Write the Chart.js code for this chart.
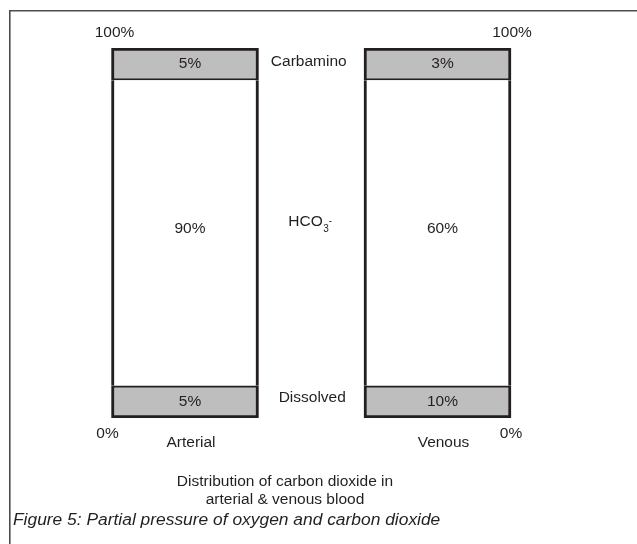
<!DOCTYPE html>
<html>
<head>
<meta charset="utf-8">
<script src="https://cdn.jsdelivr.net/npm/chart.js@4.4.1/dist/chart.umd.min.js"></script>
<style>
  html, body { margin: 0; padding: 0; background: #ffffff; }
  #wrap { position: relative; width: 637px; height: 544px; }
  canvas { display: block; }
</style>
</head>
<body>
<div id="wrap"><canvas id="c" width="637" height="544"></canvas></div>
<script>
// ---- Data ----
const categories = ['Arterial', 'Venous'];
const componentNames = ['Dissolved', 'HCO3-', 'Carbamino'];
// Percentages printed in each box
const dissolvedPct = [5, 10];
const hco3Pct = [90, 60];
const carbaminoPct = [5, 3];
// Drawn box heights (schematic, same for both columns), in % of column height
const dissolvedBox = [8.7, 8.7];
const hco3Box = [82.6, 82.6];
const carbaminoBox = [8.7, 8.7];
// Axis end labels
const topLabel = '100%';
const bottomLabel = '0%';
const subtitleLines = ['Distribution of carbon dioxide in', 'arterial & venous blood'];
const captionText = 'Figure 5: Partial pressure of oxygen and carbon dioxide';

const FONT = '"Liberation Sans", Arial, Helvetica, sans-serif';
const INK = '#231f20';
const GRAY = '#bebebe';
const BW = 3;

const annot = {
  id: 'annot',
  afterDatasetsDraw(chart) {
    const ctx = chart.ctx;
    const x = chart.scales.x;
    const ca = chart.chartArea;
    ctx.save();
    ctx.fillStyle = INK;
    ctx.textAlign = 'center';
    ctx.textBaseline = 'middle';
    ctx.font = '15.5px ' + FONT;
    const pctSets = [dissolvedPct, hco3Pct, carbaminoPct];
    const yOff = [0, -4, 0];
    // values in boxes
    chart.data.datasets.forEach((ds, di) => {
      const meta = chart.getDatasetMeta(di);
      meta.data.forEach((bar, i) => {
        const cy = (bar.y + bar.base) / 2 + yOff[di];
        ctx.fillText(pctSets[di][i] + '%', bar.x + 5, cy);
      });
    });
    // side component names between columns
    const mid = (chart.getDatasetMeta(0).data[0].x + chart.getDatasetMeta(0).data[1].x) / 2;
    const m0 = chart.getDatasetMeta(0).data[0];
    const m1 = chart.getDatasetMeta(1).data[0];
    const m2 = chart.getDatasetMeta(2).data[0];
    ctx.fillText('Carbamino', mid - 2.5, (m2.y + m2.base) / 2 - 2);
    ctx.fillText('Dissolved', mid + 1, (m0.y + m0.base) / 2 - 4);
    // HCO3- with sub/superscript
    const hy = (m1.y + m1.base) / 2 - 11;
    ctx.textAlign = 'left';
    const hx = mid - 23;
    ctx.fillText('HCO', hx, hy);
    const w = ctx.measureText('HCO').width;
    ctx.font = '10px ' + FONT;
    ctx.fillText('3', hx + w + 0.5, hy + 7);
    ctx.fillText('-', hx + w + 6, hy - 1);
    // end labels
    ctx.font = '15.5px ' + FONT;
    ctx.textAlign = 'center';
    const b0 = chart.getDatasetMeta(0).data[0], b1 = chart.getDatasetMeta(0).data[1];
    const half = b0.width / 2;
    ctx.fillText(topLabel, b0.x - half + 3, ca.top - 15);
    ctx.fillText(topLabel, b1.x + half + 1, ca.top - 15);
    ctx.fillText(bottomLabel, b0.x - half - 4, ca.bottom + 16);
    ctx.fillText(bottomLabel, b1.x + half, ca.bottom + 16);
    // category labels
    categories.forEach((c, i) => {
      ctx.fillText(c, x.getPixelForValue(i) + 6, ca.bottom + 25);
    });
    // subtitle
    ctx.font = '15.5px ' + FONT;
    ctx.fillText(subtitleLines[0], 285, 482);
    ctx.fillText(subtitleLines[1], 285, 500);
    // caption
    ctx.font = 'italic 17.4px ' + FONT;
    ctx.textAlign = 'left';
    ctx.fillText(captionText, 13, 520);
    // frame
    ctx.strokeStyle = '#4d4d4d';
    ctx.lineWidth = 1.6;
    ctx.beginPath();
    ctx.moveTo(9.8, 544);
    ctx.lineTo(9.8, 10.8);
    ctx.lineTo(637, 10.8);
    ctx.stroke();
    ctx.restore();
  }
};

new Chart(document.getElementById('c'), {
  type: 'bar',
  data: {
    labels: categories,
    datasets: [
      { label: componentNames[0], data: dissolvedBox, backgroundColor: GRAY, borderColor: INK,
        borderWidth: { left: BW, right: BW, bottom: BW, top: 2 }, borderSkipped: false },
      { label: componentNames[1], data: hco3Box, backgroundColor: '#ffffff', borderColor: INK,
        borderWidth: { left: BW, right: BW, bottom: 0, top: 0 }, borderSkipped: false },
      { label: componentNames[2], data: carbaminoBox, backgroundColor: GRAY, borderColor: INK,
        borderWidth: { left: BW, right: BW, bottom: 2, top: BW }, borderSkipped: false }
    ]
  },
  options: {
    responsive: false,
    animation: false,
    devicePixelRatio: 1,
    layout: { padding: { left: 58.75, right: 73.25, top: 48, bottom: 126 } },
    datasets: { bar: { barThickness: 147 } },
    scales: {
      x: { display: false, stacked: true },
      y: { display: false, stacked: true, min: 0, max: 100 }
    },
    plugins: { legend: { display: false }, tooltip: { enabled: false }, title: { display: false } }
  },
  plugins: [annot]
});
</script>
</body>
</html>
